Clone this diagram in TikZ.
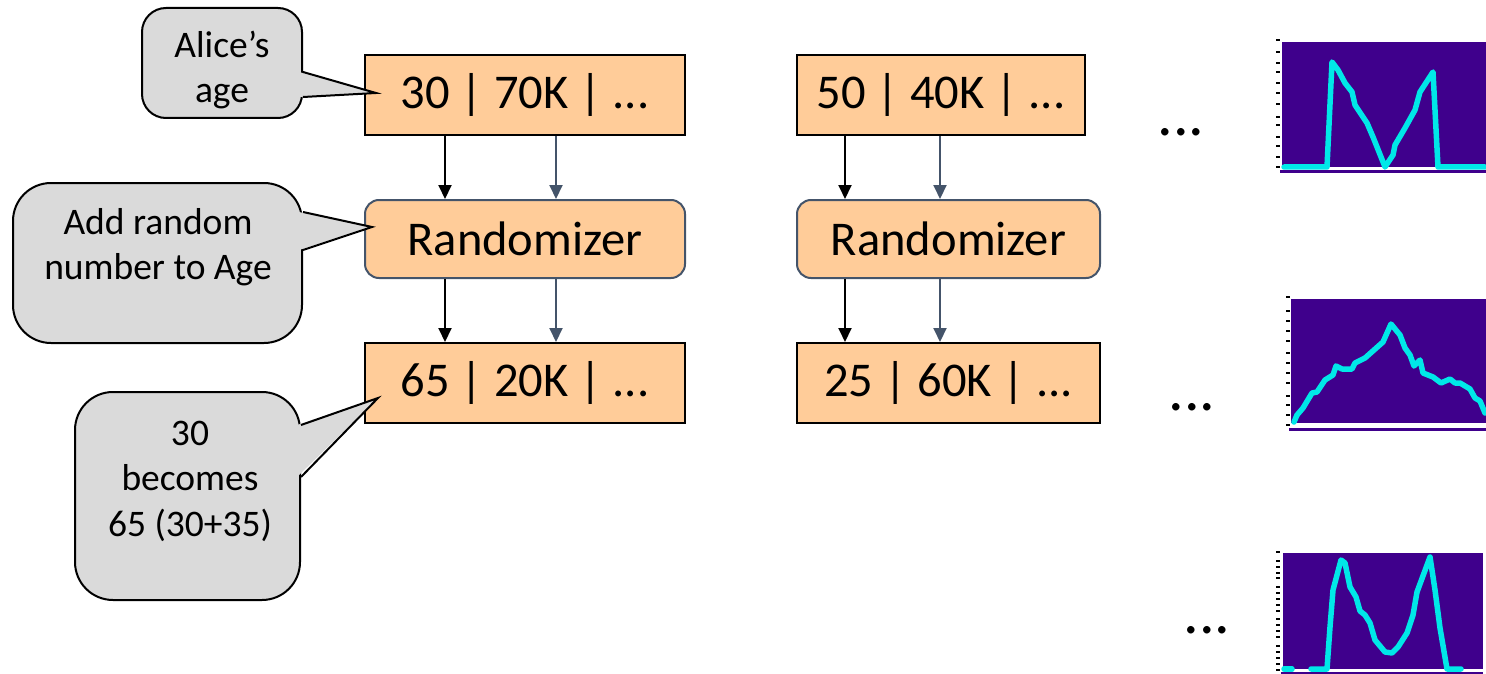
\documentclass[tikz,border=0pt]{standalone}
\usepackage{fontspec}
\setmainfont{Carlito}
\usetikzlibrary{arrows.meta,calc}
\definecolor{peach}{HTML}{FFCC99}
\definecolor{slate}{HTML}{44546A}
\definecolor{calg}{HTML}{DADADA}
\definecolor{plotbg}{HTML}{3F008C}
\definecolor{plotline}{HTML}{00E8E8}
\begin{document}
\begin{tikzpicture}[x=1pt,y=-1pt,
  rec/.style={draw=black,line width=2pt,fill=peach,inner sep=0pt,font=\fontsize{48.5}{52}\selectfont},
  rnd/.style={draw=slate,line width=2pt,fill=peach,rounded corners=14pt,inner sep=0pt,font=\fontsize{48.5}{52}\selectfont},
  callbox/.style={draw=black,line width=2pt,fill=calg,inner sep=0pt},
  calltext/.style={align=center,inner sep=0pt,font=\fontsize{37.5}{45.5}\selectfont},
  arrk/.style={line width=2pt,draw=black,-{Triangle[width=13pt,length=14pt]}},
  arrs/.style={line width=2pt,draw=slate,-{Triangle[width=13pt,length=14pt]}},
  dots/.style={inner sep=0pt,anchor=base,font=\fontsize{62}{66}\selectfont},
  ptr/.style={line width=2pt,draw=black,line join=miter},
  curve/.style={draw=plotline,line width=5.5pt,line join=round,line cap=round},
  tick/.style={line width=2.2pt,draw=black},
]
\useasboundingbox (0,0) rectangle (1486,674);

% record boxes and randomizers
\node[rec,minimum width=320pt,minimum height=80pt] (b1) at (525,95) {30 | 70K | ...};
\node[rnd,minimum width=320pt,minimum height=78pt] (r1) at (525,239) {Randomizer};
\node[rec,minimum width=320pt,minimum height=80pt] (b3) at (525,383) {65 | 20K | ...};
\node[rec,minimum width=288pt,minimum height=80pt] (b2) at (941,95) {50 | 40K | ...};
\node[rnd,minimum width=303pt,minimum height=78pt] (r2) at (948.5,239) {Randomizer};
\node[rec,minimum width=303pt,minimum height=80pt] (b4) at (948.5,383) {25 | 60K | ...};

% arrows
\draw[arrk] (b1.south -| 445,0) -- (r1.north -| 445,0);
\draw[arrs] (b1.south -| 556,0) -- (r1.north -| 556,0);
\draw[arrk] (r1.south -| 445,0) -- (b3.north -| 445,0);
\draw[arrs] (r1.south -| 556,0) -- (b3.north -| 556,0);
\draw[arrk] (b2.south -| 845,0) -- (r2.north -| 845,0);
\draw[arrs] (b2.south -| 940,0) -- (r2.north -| 940,0);
\draw[arrk] (r2.south -| 845,0) -- (b4.north -| 845,0);
\draw[arrs] (r2.south -| 940,0) -- (b4.north -| 940,0);

% callout 1
\node[callbox,rounded corners=24pt,minimum width=160pt,minimum height=110pt] (c1) at (222,63) {};
\coordinate (t1) at (376,93);
\fill[calg] (299,72) -- (t1) -- (299,97) -- cycle;
\draw[ptr] (c1.east |- 0,72) -- (t1) -- (c1.east |- 0,97);
\node[calltext] (c1t) at (222,70) {Alice’s\\age};

% callout 2
\node[callbox,rounded corners=38pt,minimum width=289pt,minimum height=160pt] (c2) at (157.5,263) {};
\coordinate (t2) at (372,227);
\fill[calg] (299,212) -- (t2) -- (299,250) -- cycle;
\draw[ptr] (c2.east |- 0,212) -- (t2) -- (c2.east |- 0,250);
\node[calltext] (c2t) at (158,247) {Add random\\number to Age};

% callout 3
\node[callbox,rounded corners=38pt,minimum width=225pt,minimum height=208pt] (c3) at (187.5,496) {};
\coordinate (t3) at (378,398);
\fill[calg] (297,425) -- (t3) -- (297,477) -- cycle;
\draw[ptr] (c3.east |- 0,425) -- (t3) -- (c3.east |- 0,477);
\node[calltext] (c3t) at (190,481) {30\\becomes\\65 (30+35)};

% dots
\node[dots] (d1) at (1181,136) {.{}.{}.};
\node[dots] (d2) at (1192,410) {.{}.{}.};
\node[dots] (d3) at (1207,633) {.{}.{}.};

% chart 1
\fill[plotbg] (1282,42) rectangle (1486,167);
\fill[white] (1282,167) rectangle (1486,170);
\fill[plotbg] (1280,170) rectangle (1486,173);
\foreach \yy in {40,52,63,72,83,93,104,117,125,137,146,157,167}
  \draw[tick] (1276,\yy) -- (1280,\yy);
\draw[curve] plot coordinates {(1284,167) (1327,167) (1332,62) (1338,70) (1345,83) (1352,92) (1355,105) (1367,123) (1373,137) (1385,167) (1393,155) (1395,145) (1405,128) (1415,110) (1420,92) (1433,72) (1438,167) (1485,167)};

% chart 2
\fill[plotbg] (1291,299) rectangle (1486,423);
\fill[white] (1291,423) rectangle (1486,427);
\fill[plotbg] (1289,428) rectangle (1486,431);
\foreach \yy in {297,311,321,331,341,353,363,373,383,396,405,415,425}
  \draw[tick] (1286,\yy) -- (1290,\yy);
\draw[curve] plot coordinates {(1294,422) (1297,415) (1303,408) (1312,393) (1317,392) (1325,380) (1333,375) (1336,366) (1342,369) (1352,369) (1355,363) (1365,358) (1383,342) (1391,324) (1400,335) (1405,348) (1410,355) (1414,366) (1420,360) (1423,373) (1433,377) (1441,383) (1450,379) (1455,383) (1460,383) (1470,389) (1475,398) (1480,401) (1485,413)};

% chart 3
\fill[plotbg] (1283,553) rectangle (1483,669);
\fill[white] (1283,669) rectangle (1483,672);
\fill[plotbg] (1281,672) rectangle (1483,674);
\foreach \yy in {552,561,567,573,578,587,593,599,605,611,619,625,631,637,646,652,658,664,670}
  \draw[tick] (1276,\yy) -- (1280,\yy);
\draw[curve] (1284,669) -- (1292,669);
\draw[curve] plot coordinates {(1311,669) (1327,669) (1330,627) (1333,590) (1341,560) (1345,563) (1350,587) (1356,597) (1360,611) (1365,615) (1370,623) (1375,640) (1385,652) (1392,653) (1398,647) (1407,633) (1413,615) (1417,592) (1430,557) (1435,590) (1440,628) (1447,669) (1461,669)};
\end{tikzpicture}
\end{document}
